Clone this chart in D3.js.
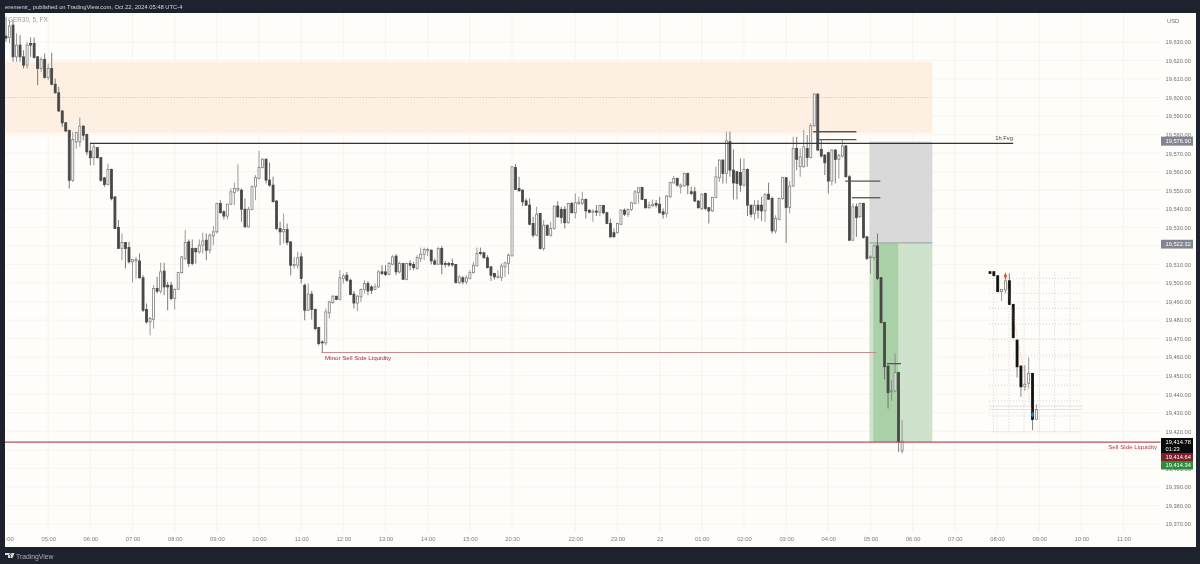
<!DOCTYPE html>
<html>
<head>
<meta charset="utf-8">
<title>GER30 5m</title>
<script src="https://cdnjs.cloudflare.com/ajax/libs/d3/7.8.5/d3.min.js"></script>
<style>
html,body{margin:0;padding:0;background:#1e222d;overflow:hidden;}
svg{display:block;filter:blur(0.3px);}
svg text{font-family:"Liberation Sans",Arial,sans-serif;}
</style>
</head>
<body>
<script>
// candles (5 minute bars)
var opens = [
19633.2,19632.4,19639.1,19622.0,19628.3,19622.0,19617.5,19629.2,19629.2,19622.0,
19615.7,19620.6,19610.8,19615.7,19607.2,19602.6,19592.8,19586.4,19582.4,19555.4,
19576.1,19576.1,19584.6,19580.1,19571.2,19567.6,19573.0,19567.6,19556.7,19553.1,
19561.3,19546.5,19530.0,19518.6,19521.8,19519.1,19511.4,19511.9,19511.9,19502.8,
19485.7,19479.0,19480.3,19497.0,19495.6,19506.4,19498.8,19498.8,19491.6,19496.6,
19505.6,19513.2,19522.2,19518.6,19518.6,19516.8,19520.4,19523.1,19517.7,19525.4,
19527.6,19542.9,19538.4,19536.1,19542.5,19548.8,19550.1,19550.1,19539.8,19530.3,
19539.7,19551.9,19556.4,19562.3,19566.8,19555.5,19552.8,19544.2,19529.4,19527.6,
19528.9,19522.2,19509.4,19509.6,19514.1,19498.8,19485.3,19494.0,19485.7,19476.0,
19468.2,19467.7,19483.9,19489.4,19492.9,19491.1,19502.4,19504.2,19501.5,19494.0,
19489.2,19492.5,19496.5,19499.7,19497.9,19496.5,19497.9,19506.0,19506.0,19504.7,
19510.1,19514.5,19506.0,19510.5,19502.0,19510.5,19510.0,19507.8,19513.2,19515.5,
19517.4,19517.7,19511.9,19510.1,19518.6,19510.5,19510.5,19510.5,19510.0,19500.2,
19502.8,19500.6,19502.4,19505.6,19509.2,19516.4,19516.3,19513.6,19508.7,19505.1,
19503.0,19503.0,19508.7,19510.5,19514.6,19562.3,19551.0,19550.1,19544.3,19542.0,
19532.1,19525.8,19537.5,19518.6,19531.2,19525.8,19529.4,19541.5,19539.7,19539.7,
19532.5,19542.9,19537.9,19542.9,19542.9,19545.1,19539.3,19538.2,19538.8,19538.2,
19541.8,19537.9,19532.1,19527.1,19527.1,19531.7,19539.3,19537.1,19539.7,19542.9,
19548.8,19551.5,19545.1,19540.6,19541.6,19542.9,19542.5,19538.4,19537.5,19546.5,
19554.0,19556.4,19551.9,19552.4,19559.1,19549.2,19549.2,19544.2,19540.2,19548.3,
19540.6,19538.9,19546.1,19556.8,19566.3,19559.1,19576.2,19560.9,19560.0,19559.6,
19552.8,19561.3,19542.0,19537.5,19542.0,19542.0,19538.9,19547.9,19545.6,19528.1,
19534.3,19545.6,19556.8,19540.7,19552.3,19572.6,19562.7,19562.7,19572.6,19567.7,
19584.8,19601.9,19572.1,19569.0,19570.3,19555.0,19571.7,19566.7,19568.5,19573.9,
19557.3,19523.1,19541.1,19535.7,19542.9,19524.9,19513.6,19513.7,19520.0,19502.9,
19478.7,19455.2,19441.3,19441.8,19451.7,19409.4];
var highs = [
19643.6,19641.8,19641.8,19634.6,19633.7,19625.6,19630.1,19632.4,19632.4,19622.4,
19622.0,19623.8,19618.4,19624.2,19610.3,19605.8,19593.2,19586.9,19582.4,19581.5,
19581.5,19589.2,19585.1,19580.6,19575.2,19575.2,19573.4,19568.0,19557.2,19564.4,
19561.7,19546.5,19533.9,19526.7,19522.2,19522.2,19512.7,19514.1,19515.9,19504.2,
19488.9,19481.7,19498.8,19503.3,19510.9,19510.9,19500.6,19500.6,19497.0,19506.0,
19514.5,19528.5,19523.5,19523.5,19519.1,19523.5,19527.1,19526.7,19526.7,19530.7,
19543.3,19544.7,19539.3,19542.5,19551.0,19554.1,19564.0,19551.0,19545.6,19541.1,
19552.8,19558.2,19571.3,19567.2,19567.2,19565.0,19557.3,19544.7,19533.0,19537.5,
19532.1,19522.2,19514.1,19516.8,19516.3,19499.7,19499.7,19495.7,19486.2,19476.3,
19469.1,19486.2,19490.3,19493.4,19492.9,19506.9,19505.1,19506.0,19502.4,19495.7,
19493.4,19497.0,19501.5,19501.1,19498.8,19499.7,19506.9,19509.6,19509.6,19511.4,
19515.0,19515.5,19511.4,19510.5,19510.9,19512.3,19511.4,19515.0,19519.1,19519.1,
19519.1,19518.1,19513.2,19519.5,19519.9,19511.9,19511.4,19513.2,19510.1,19504.2,
19503.7,19504.2,19506.9,19511.4,19519.1,19519.1,19516.8,19515.0,19509.1,19505.5,
19506.9,19510.5,19511.4,19515.9,19563.1,19564.1,19557.3,19550.5,19545.6,19545.6,
19535.7,19541.1,19537.9,19533.9,19531.2,19533.0,19541.6,19544.2,19541.1,19541.5,
19542.9,19543.8,19548.3,19546.5,19549.2,19545.6,19539.7,19539.7,19542.0,19542.0,
19542.0,19538.4,19534.8,19529.4,19532.5,19539.7,19540.2,19540.2,19543.8,19550.1,
19551.5,19551.9,19545.4,19543.8,19545.1,19544.7,19546.5,19540.2,19547.4,19554.6,
19557.7,19556.9,19553.7,19559.5,19559.5,19551.9,19551.9,19544.7,19548.3,19548.7,
19541.1,19546.5,19562.7,19566.7,19566.8,19581.6,19581.6,19572.1,19560.5,19567.2,
19567.2,19561.8,19542.0,19544.7,19544.7,19546.5,19548.3,19554.1,19546.5,19536.6,
19546.1,19557.3,19556.8,19555.1,19578.9,19578.9,19572.6,19582.5,19579.8,19586.1,
19602.3,19602.3,19577.1,19569.5,19570.8,19572.1,19572.1,19569.5,19577.1,19574.4,
19558.2,19542.9,19542.9,19543.3,19543.3,19525.3,19515.0,19520.4,19526.7,19502.9,
19479.1,19455.7,19447.6,19462.0,19452.1,19426.0];
var lows = [
19630.1,19629.2,19619.3,19619.3,19619.3,19615.7,19615.7,19622.0,19621.1,19606.7,
19613.9,19610.3,19609.4,19606.7,19602.2,19592.3,19584.2,19581.5,19550.9,19554.5,
19572.5,19573.4,19577.0,19568.9,19563.5,19563.5,19567.1,19554.5,19551.8,19552.7,
19544.6,19529.4,19518.6,19512.3,19507.8,19510.5,19500.2,19502.4,19502.4,19484.4,
19478.1,19471.8,19475.4,19494.3,19494.3,19493.4,19485.3,19490.7,19485.7,19496.5,
19505.1,19512.3,19508.7,19509.6,19510.5,19515.9,19515.9,19512.3,19515.9,19520.4,
19526.7,19537.5,19534.3,19534.3,19542.0,19542.0,19549.2,19533.0,19529.9,19529.9,
19539.3,19544.7,19555.9,19561.8,19553.7,19551.9,19543.8,19528.5,19520.4,19521.3,
19520.4,19504.2,19507.8,19507.8,19499.7,19479.9,19484.9,19480.3,19474.5,19466.4,
19462.3,19466.4,19480.8,19488.9,19490.7,19490.7,19499.7,19500.6,19493.4,19486.2,
19484.9,19489.8,19494.3,19493.4,19494.0,19496.1,19497.5,19504.2,19503.8,19504.2,
19509.6,19504.2,19505.1,19501.9,19501.5,19506.9,19506.9,19507.3,19511.4,19512.3,
19514.5,19510.0,19510.0,19510.0,19504.7,19508.3,19508.7,19508.7,19499.7,19499.3,
19499.3,19499.3,19501.9,19505.1,19509.1,19515.0,19513.2,19507.8,19501.1,19501.9,
19502.4,19501.1,19503.3,19504.7,19514.5,19550.1,19549.4,19541.5,19541.5,19531.2,
19524.5,19525.3,19518.1,19517.3,19525.4,19524.9,19528.9,19535.3,19532.1,19529.4,
19532.1,19537.5,19534.8,19542.0,19542.0,19534.8,19537.5,19533.0,19536.1,19536.1,
19537.1,19531.7,19524.5,19524.5,19526.7,19531.2,19536.1,19535.7,19538.9,19542.5,
19542.9,19544.7,19540.2,19540.2,19541.1,19540.7,19537.5,19534.8,19535.3,19546.1,
19553.7,19551.9,19548.3,19551.9,19547.9,19547.4,19543.8,19540.2,19539.3,19539.3,
19532.1,19538.4,19545.6,19554.6,19553.7,19553.7,19557.3,19545.1,19545.1,19549.2,
19551.9,19536.1,19535.3,19533.9,19534.8,19533.5,19533.0,19544.7,19526.7,19526.7,
19533.9,19544.7,19521.7,19537.5,19551.9,19560.9,19557.3,19562.3,19562.7,19567.2,
19584.3,19571.3,19567.7,19558.2,19548.3,19552.6,19553.7,19556.4,19567.7,19556.9,
19522.7,19522.7,19524.9,19535.3,19524.0,19512.3,19505.1,19512.3,19501.5,19478.2,
19448.0,19432.3,19436.4,19441.3,19408.9,19408.0];
var closes = [
19632.1,19638.6,19622.0,19628.3,19622.0,19617.5,19628.3,19628.3,19621.6,19615.7,
19620.6,19610.8,19615.7,19607.2,19602.6,19592.8,19586.4,19582.0,19555.4,19577.4,
19581.1,19584.6,19579.7,19570.7,19567.6,19573.4,19567.6,19555.4,19553.1,19561.2,
19545.5,19529.4,19518.6,19521.8,19518.6,19511.4,19512.7,19512.7,19502.8,19485.3,
19479.0,19480.8,19497.0,19495.6,19506.0,19497.9,19497.9,19491.6,19496.6,19505.6,
19514.1,19521.8,19510.5,19510.5,19516.8,19520.4,19522.7,19517.7,19525.8,19527.6,
19542.9,19537.9,19536.1,19542.5,19549.2,19551.0,19551.0,19539.8,19530.3,19539.8,
19551.9,19556.9,19562.3,19566.8,19555.5,19552.8,19543.8,19529.4,19527.6,19528.9,
19521.8,19509.6,19510.0,19513.6,19502.4,19485.3,19494.0,19485.7,19475.4,19467.3,
19467.7,19484.4,19489.8,19492.9,19491.1,19502.8,19503.8,19501.5,19493.8,19489.2,
19492.9,19496.5,19499.7,19495.7,19496.1,19497.9,19506.0,19505.1,19504.6,19510.5,
19514.1,19506.0,19510.5,19502.0,19510.5,19509.6,19508.3,19513.7,19515.5,19518.1,
19518.1,19511.9,19510.1,19518.6,19510.1,19510.0,19509.8,19509.8,19500.2,19503.3,
19500.6,19502.8,19505.6,19509.6,19515.9,19515.9,19513.6,19508.3,19504.2,19503.3,
19503.7,19509.1,19510.9,19515.0,19562.7,19550.5,19549.7,19543.8,19542.0,19531.7,
19525.8,19537.1,19518.6,19531.2,19525.8,19529.4,19541.5,19535.7,19535.3,19532.5,
19542.9,19537.9,19543.3,19543.6,19545.1,19538.9,19538.2,19538.8,19538.2,19541.8,
19537.9,19532.1,19524.9,19524.9,19532.1,19539.3,19537.1,19539.7,19543.3,19549.2,
19551.4,19545.1,19540.6,19542.0,19542.5,19542.0,19537.9,19537.1,19546.9,19554.2,
19556.4,19552.8,19552.8,19559.1,19552.8,19548.3,19544.2,19540.6,19547.9,19540.2,
19538.9,19546.1,19557.3,19566.3,19559.1,19576.7,19560.9,19554.0,19553.7,19552.8,
19561.3,19542.0,19537.1,19542.0,19539.3,19538.9,19547.9,19545.2,19528.1,19534.8,
19545.6,19556.9,19540.7,19552.3,19572.6,19566.7,19568.1,19573.5,19567.7,19584.8,
19601.9,19571.7,19568.5,19564.9,19555.0,19571.7,19566.7,19569.0,19573.9,19557.3,
19523.1,19541.1,19535.3,19542.9,19524.5,19513.2,19514.1,19520.0,19502.4,19478.6,
19454.8,19440.8,19441.8,19451.6,19414.3,19414.7];

// small pasted pattern on the right
var miniOpens  = [19506.1,19506.1,19503.9,19495.3,19496.2,19501.2,19488.5,19469.2,19455.2,19444.0,19445.8,19451.2,19426.5];
var miniHighs  = [19506.1,19506.1,19504.3,19496.6,19505.6,19505.2,19488.5,19469.6,19455.7,19455.7,19459.8,19451.6,19434.6];
var miniLows   = [19505.2,19503.9,19495.3,19490.4,19494.4,19488.1,19470.5,19449.0,19438.6,19441.8,19443.1,19420.6,19426.4];
var miniCloses = [19505.2,19503.9,19495.3,19496.6,19501.2,19488.5,19470.5,19454.8,19444.0,19445.4,19451.2,19426.4,19431.8];
var miniGridPrices = [19502.5,19494.4,19486.3,19477.8,19469.6,19461.1,19453.0,19444.9,19436.4,19428.3,19419.7];
var miniGridBars = [0.9,4.9,8.8,12.8,16.7,20.7];
var miniLevels = [19433.6,19431.8];
var miniPath = [{bar:4,price:19503.8,color:"#e8501f"},{bar:11,price:19429.0,color:"#2a7fd0"}];

// axes
var priceTicks = d3.range(19370,19640,10);
var timeBars   = [0,12,24,36,48,60,72,84,96,108,120,132,144,162,174,186,198,210,222,234,246,258,270,282,294,306,318];
var timeLabels = ["04:00","05:00","06:00","07:00","08:00","09:00","10:00","11:00","12:00","13:00","14:00","15:00","20:30","22:00","23:00","22","01:00","02:00","03:00","04:00","05:00","06:00","07:00","08:00","09:00","10:00","11:00"];

// drawings
var stubLevels = [19581.6,19577.3,19554.9,19546.0,19456.5];
var stubStart  = [229.7,231.4,238.8,240.7,250.7];
var stubEnd    = [242,242,248.8,248.8,254.7];
var supplyZone = [19619.2,19580.9];
var fvgLevel = 19575.3, minorLevel = 19462.5, sellLevel = 19414.2;
var stopLevel = 19576.9, entryLevel = 19521.6;

var width = 1200, height = 564;
var pane = {l:5, t:13, r:1196, b:547};

var x = d3.scaleLinear().domain([0,318]).range([6,1123.5]);
var y = d3.scaleLinear().domain([19630,19370]).range([42,524]);
var miniX = d3.scaleLinear().domain([0,12]).range([990,1036.4]);

var svg = d3.select("body").append("svg").attr("width",width).attr("height",height);

svg.append("rect").attr("width",width).attr("height",height).attr("fill","#1e222d");
svg.append("rect").attr("x",pane.l).attr("y",pane.t).attr("width",pane.r-pane.l).attr("height",pane.b-pane.t).attr("fill","#fffdf9");

// grid
svg.append("g").selectAll("line").data(priceTicks).enter().append("line")
	.attr("x1",pane.l).attr("x2",1160).attr("y1",d=>y(d)).attr("y2",d=>y(d))
	.attr("stroke","#f5f2ed").attr("stroke-width",0.8);
svg.append("g").selectAll("line").data(timeBars.slice(1)).enter().append("line")
	.attr("x1",d=>x(d)).attr("x2",d=>x(d)).attr("y1",pane.t).attr("y2",532)
	.attr("stroke","#f5f2ed").attr("stroke-width",0.8);

// zones
function zone(b0,b1,p0,p1,color){
	svg.append("rect").attr("x",x(b0)).attr("width",x(b1)-x(b0))
		.attr("y",y(p0)).attr("height",y(p1)-y(p0)).attr("fill",color);
}
zone(-1,263.6,supplyZone[0],supplyZone[1],"#fdf0e3");
zone(245.7,263.6,fvgLevel+1,entryLevel,"#d9d9da");
zone(245.7,263.6,entryLevel,sellLevel,"#cfe3cc");
zone(246.8,253.9,entryLevel,sellLevel,"#a9d0a6");

function hline(b0,b1,p,color,w,dash){
	svg.append("line").attr("x1",x(b0)).attr("x2",x(b1)).attr("y1",y(p)).attr("y2",y(p))
		.attr("stroke",color).attr("stroke-width",w).attr("stroke-dasharray",dash||null);
}
hline(-1,263.6,(supplyZone[0]+supplyZone[1])/2,"#f0b98a",0.7,"1.5 1.5");
hline(245.7,263.6,entryLevel,"#a5a8ad",1.2);

// candles
function drawCandles(g,sx,o,h,l,c,bodyW,upStroke,downFill,wickColor){
	var bars = g.selectAll("g").data(d3.range(o.length)).enter().append("g");
	bars.append("line")
		.attr("x1",d=>sx(d)).attr("x2",d=>sx(d)).attr("y1",d=>y(h[d])).attr("y2",d=>y(l[d]))
		.attr("stroke",d=>c[d]<o[d]?wickColor:upStroke).attr("stroke-width",0.8);
	bars.append("rect")
		.attr("x",d=>sx(d)-bodyW/2).attr("width",bodyW)
		.attr("y",d=>y(Math.max(o[d],c[d])))
		.attr("height",d=>Math.max(0.8,Math.abs(y(o[d])-y(c[d]))))
		.attr("fill",d=>c[d]<o[d]?downFill:"#fff")
		.attr("stroke",d=>c[d]<o[d]?downFill:upStroke).attr("stroke-width",0.8);
}
drawCandles(svg.append("g"),x,opens,highs,lows,closes,2,"#808080","#484848","#5c5c5c");

// trade lines on top of candles
hline(23.9,286.6,fvgLevel,"#333",1.4);
hline(89.8,247.7,minorLevel,"#c98a92",1);
hline(-1,328.5,sellLevel,"#b3505f",1.3);
stubLevels.forEach(function(p,i){ hline(stubStart[i],stubEnd[i],p,"#555",1.3); });

// pattern inset
var mini = svg.append("g");
mini.selectAll(".gh").data(miniGridPrices).enter().append("line").attr("class","gh")
	.attr("x1",miniX(0)-1).attr("x2",1082).attr("y1",d=>y(d)).attr("y2",d=>y(d))
	.attr("stroke","#c9ccd2").attr("stroke-width",0.8).attr("stroke-dasharray","1 2");
mini.selectAll(".gv").data(miniGridBars).enter().append("line").attr("class","gv")
	.attr("x1",d=>miniX(d)).attr("x2",d=>miniX(d)).attr("y1",y(19506.1)).attr("y2",y(19419.2))
	.attr("stroke","#c9ccd2").attr("stroke-width",0.8).attr("stroke-dasharray","1 2");
mini.selectAll(".lv").data(miniLevels).enter().append("line").attr("class","lv")
	.attr("x1",miniX(0)-1).attr("x2",1082).attr("y1",d=>y(d)).attr("y2",d=>y(d))
	.attr("stroke","#d9d9d9").attr("stroke-width",0.8);
drawCandles(mini.append("g"),miniX,miniOpens,miniHighs,miniLows,miniCloses,2,"#808080","#111","#666");
mini.append("line")
	.attr("x1",miniX(miniPath[0].bar)).attr("y1",y(miniPath[0].price))
	.attr("x2",miniX(miniPath[1].bar)).attr("y2",y(miniPath[1].price))
	.attr("stroke","#e58a70").attr("stroke-width",0.6).attr("stroke-dasharray","1 1.5");
mini.selectAll("path").data(miniPath).enter().append("path")
	.attr("d",d3.symbol(d3.symbolDiamond,10))
	.attr("transform",d=>"translate("+miniX(d.bar)+","+y(d.price)+")")
	.attr("fill",d=>d.color);

// annotations
svg.append("text").attr("x",1013).attr("y",140).attr("text-anchor","end")
	.attr("font-size",5.8).attr("fill","#444").text("1h Fvg");
svg.append("text").attr("x",325).attr("y",360).attr("font-size",6.2)
	.attr("fill","#9c2a3c").text("Minor Sell Side Liquidity");
svg.append("text").attr("x",1157).attr("y",449).attr("text-anchor","end")
	.attr("font-size",6.2).attr("fill","#b3384c").text("Sell Side Liquidity");

// axes
var yAxis = d3.axisRight(y).tickValues(priceTicks).tickSize(0).tickPadding(0).tickFormat(d3.format(",.2f"));
var yG = svg.append("g").attr("transform","translate(1165.5,0)").call(yAxis);
yG.select(".domain").remove();
yG.selectAll("text").attr("font-size",5.7).attr("fill","#6f7279").attr("font-family",null);

var xAxis = d3.axisBottom(x).tickValues(timeBars).tickSize(0).tickPadding(0).tickFormat((d,i)=>timeLabels[i]);
var xG = svg.append("g").attr("transform","translate(0,537)").call(xAxis);
xG.select(".domain").remove();
xG.selectAll("text").attr("font-size",5.8).attr("fill","#7a7d85").attr("font-family",null);

// price tags
function tag(y0,h,color,lines){
	svg.append("rect").attr("x",1161).attr("y",y0).attr("width",32).attr("height",h).attr("fill",color);
	lines.forEach(function(t,i){
		svg.append("text").attr("x",1165.5).attr("y",y0+6.3+i*6.8).attr("font-size",5.7).attr("fill","#fff").text(t);
	});
}
tag(y(stopLevel)-3.8,9,"#82858f",[d3.format(",.2f")(stopLevel)]);
tag(y(entryLevel)-3.2,8.8,"#82858f",["19,522.32"]);
tag(438,15,"#0a0a0a",["19,414.78","01:23"]);
tag(453,8,"#7f1d2b",["19,414.64"]);
tag(461,8.5,"#2e8b3a",["19,414.34"]);

// header and frame
svg.append("rect").attr("x",0).attr("y",0).attr("width",pane.l).attr("height",height).attr("fill","#1e222d");
svg.append("text").attr("x",5).attr("y",9).attr("font-size",5.8).attr("fill","#d6d8dd")
	.text("eremenir_ published on TradingView.com, Oct 22, 2024 05:48 UTC-4");
svg.append("text").attr("x",8).attr("y",22).attr("font-size",6.4).attr("fill","#9a9da5").text("GER30, 5, FX");
svg.append("text").attr("x",1167).attr("y",23).attr("font-size",5.8).attr("fill","#6f7279").text("USD");

// TradingView mark
svg.append("path").attr("d","M5 553h5v5h-2v-3h-3zM11.5 553h3l-2 5h-2.2zM10 553.5a.9.9 0 1 0 .01 0z").attr("fill","#d8dade");
svg.append("text").attr("x",16).attr("y",558.5).attr("font-size",6.8).attr("fill","#a8abb2").text("TradingView");
</script>
</body>
</html>
